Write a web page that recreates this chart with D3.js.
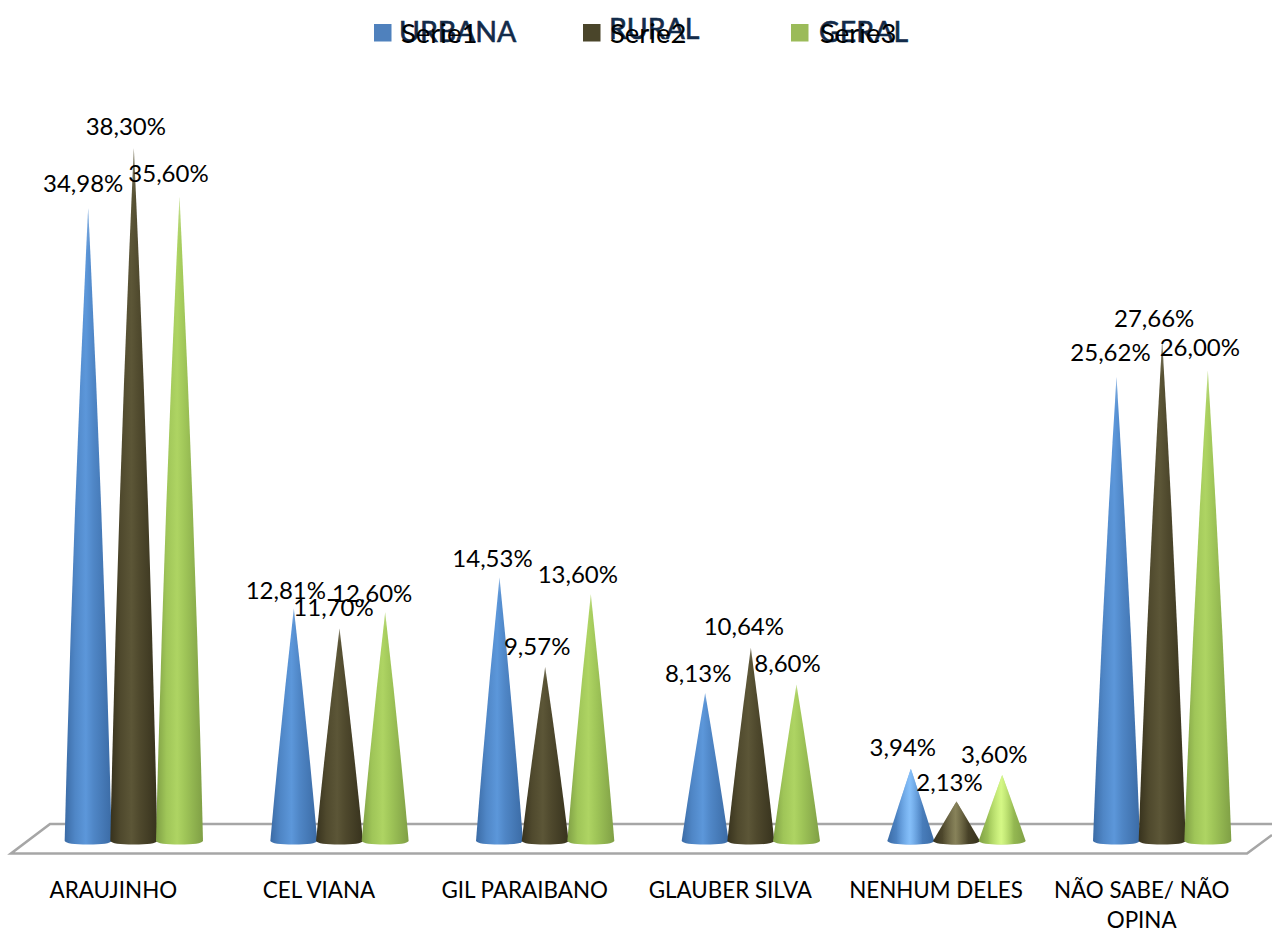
<!DOCTYPE html>
<html><head><meta charset="utf-8">
<script src="https://cdn.jsdelivr.net/npm/d3@7"></script>
<style>html,body{margin:0;padding:0;background:#fff}svg{display:block}</style></head>
<body><div id="c"></div>
<script>
const categories = ["ARAUJINHO","CEL VIANA","GIL PARAIBANO","GLAUBER SILVA","NENHUM DELES","NÃO SABE/ NÃO|OPINA"];
const seriesNames = ["Serie1","Serie2","Serie3"];
const legendTitles = ["URBANA","RURAL","GERAL"];
const urbana = [34.98,12.81,14.53,8.13,3.94,25.62];
const rural = [38.30,11.70,9.57,10.64,2.13,27.66];
const geral = [35.60,12.60,13.60,8.60,3.60,26.00];
const seriesValues = [urbana,rural,geral];

const labelDx = [[-5,-8,-7,-7,-8,-6],[-8,-6,-8,-7,-7,-8],[-11,-13,-13,-9,-8,-8]];
const labelDy = [[-24,-18,-18,-19,-21,-24],[-21,-21,-20,-21,-19,-21],[-23,-18,-19,-21,-20,-22]];
const palette = [
  {edge:"#3b6ba5",mid:"#4f86c6",hi:"#5c97da",flat:"#4f81bd",shine:"#8cc6ff"},
  {edge:"#37321d",mid:"#4f492d",hi:"#5c5637",flat:"#4a452a",shine:"#8f8a60"},
  {edge:"#7f9f45",mid:"#9fc558",hi:"#aed463",flat:"#9bbb59",shine:"#dcff8c"}];
const W=1272,H=931;
const svg=d3.select("#c").append("svg").attr("width",W).attr("height",H);
const x=d3.scaleBand().domain(categories).range([31,1265]);
const inner=d3.scaleBand().domain(d3.range(3)).range([x.bandwidth()/2-68.5,x.bandwidth()/2+68.5]);
const y=d3.scaleLinear().domain([0,38.30]).range([840,148]);
const defs=svg.append("defs");
palette.forEach((p,i)=>{
  const g=defs.append("linearGradient").attr("id","g"+i).attr("x1",0).attr("x2",1).attr("y1",0).attr("y2",0);
  [[0,p.edge],[.22,p.mid],[.45,p.hi],[.62,p.mid],[1,p.edge]].forEach(s=>g.append("stop").attr("offset",s[0]).attr("stop-color",s[1]));
  const sh=defs.append("linearGradient").attr("id","shine"+i).attr("x1",0).attr("x2",1).attr("y1",0).attr("y2",0);
  [[.2,0],[.48,.85],[.75,0]].forEach(s=>sh.append("stop").attr("offset",s[0]).attr("stop-color",p.shine).attr("stop-opacity",s[1]));
});
const fade=defs.append("linearGradient").attr("id","tip").attr("x1",0).attr("x2",0).attr("y1",0).attr("y2",1);
[[0,.45],[.03,.15],[.07,0],[1,0]].forEach(s=>fade.append("stop").attr("offset",s[0]).attr("stop-color","#fff").attr("stop-opacity",s[1]));

// floor
svg.append("path").attr("d","M1272,824L50,824L11,853.5L1247,853.5L1272,835")
  .attr("fill","none").attr("stroke","#a6a6a6").attr("stroke-width",2.6);

const R=23.5;
function cone(cx,top){
  const b=y(0)+1, h=b-top, bulge=h*0.006;
  return `M${cx},${top}Q${cx+R/2+bulge},${top+h/2} ${cx+R},${b}Q${cx+R-2},${b+3.5} ${cx},${b+3.5}Q${cx-R+2},${b+3.5} ${cx-R},${b}Q${cx-R/2-bulge},${top+h/2} ${cx},${top}Z`;
}
const groups=svg.selectAll("g.cat").data(categories).join("g").attr("class","cat");
groups.each(function(cat,ci){
  const g=d3.select(this);
  seriesValues.forEach((vals,si)=>{
    const cx=x(cat)+inner(si)+inner.bandwidth()/2, d=cone(cx,y(vals[ci]));
    g.append("path").attr("d",d).attr("fill",`url(#g${si})`);
    g.append("path").attr("d",d).attr("fill","url(#tip)");
    if(vals[ci]<5) g.append("path").attr("d",d).attr("fill",`url(#shine${si})`);
  });
  seriesValues.forEach((vals,si)=>{
    const cx=x(cat)+inner(si)+inner.bandwidth()/2;
    g.append("text").attr("x",cx+labelDx[si][ci]).attr("y",y(vals[ci])+labelDy[si][ci]+8)
      .attr("text-anchor","middle").attr("font-family","Lato").attr("font-size",24).attr("fill","#000")
      .text(vals[ci].toFixed(2).replace(".",",")+"%");
  });
  const lines=cat.split("|");
  lines.forEach((t,li)=>{
    g.append("text").attr("x",x(cat)+x.bandwidth()/2-20.5).attr("y",898+li*29.5)
      .attr("text-anchor","middle").attr("font-family","Lato").attr("font-size",22.4).attr("fill","#000").text(t);
  });
});

const legendX=[374,583,791], titleX=[399,609,819], titleY=[42,39,42], nameX=[401,610,820];
legendTitles.forEach((t,i)=>{
  svg.append("rect").attr("x",legendX[i]).attr("y",24).attr("width",17.5).attr("height",17.5).attr("fill",palette[i].flat);
  svg.append("text").attr("x",titleX[i]).attr("y",titleY[i]).attr("font-family","Lato").attr("font-size",28.5).attr("fill","#122b4a").attr("stroke","#122b4a").attr("stroke-width",0.6).text(t);
  svg.append("text").attr("x",nameX[i]).attr("y",43).attr("font-family","Lato").attr("font-size",27.5).attr("fill","#000").text(seriesNames[i]);
});
</script></body></html>
